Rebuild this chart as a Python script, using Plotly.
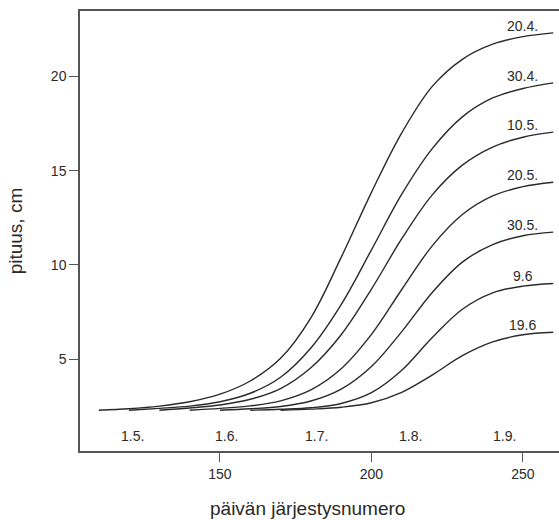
import plotly.graph_objects as go

# Sowing dates (day of year) and the curve labels
sow_labels = ["20.4.", "30.4.", "10.5.", "20.5.", "30.5.", "9.6", "19.6"]

# Common day grid; each series starts at its own sowing day
days = [110, 120, 130, 140, 150, 160, 170, 180, 190, 200, 210, 220, 230, 240, 250, 260]

# Plant height (cm) by day, one list per sowing date (None before sowing)
h_2004 = [2.3, 2.38, 2.52, 2.75, 3.15, 3.85, 5.05, 7.2, 10.4, 13.85, 17.0, 19.45, 20.9, 21.7, 22.1, 22.3]
h_3004 = [None, 2.3, 2.4, 2.52, 2.75, 3.2, 4.05, 5.6, 7.9, 10.8, 13.75, 16.15, 17.85, 18.85, 19.35, 19.65]
h_1005 = [None, None, 2.3, 2.42, 2.58, 2.88, 3.45, 4.55, 6.3, 8.72, 11.39, 13.7, 15.29, 16.25, 16.77, 17.04]
h_2005 = [None, None, None, 2.3, 2.4, 2.53, 2.8, 3.38, 4.5, 6.32, 8.7, 11.0, 12.67, 13.66, 14.15, 14.38]
h_3005 = [None, None, None, None, 2.3, 2.38, 2.5, 2.79, 3.42, 4.62, 6.47, 8.53, 10.15, 11.08, 11.55, 11.74]
h_0906 = [None, None, None, None, None, 2.3, 2.35, 2.43, 2.66, 3.23, 4.42, 6.14, 7.65, 8.52, 8.88, 9.02]
h_1906 = [None, None, None, None, None, None, 2.3, 2.36, 2.46, 2.7, 3.25, 4.16, 5.19, 5.92, 6.3, 6.43]

series = [h_2004, h_3004, h_1005, h_2005, h_3005, h_0906, h_1906]

# Month markers along the bottom of the plot
month_days = [121, 152, 182, 213, 244]
month_text = ["1.5.", "1.6.", "1.7.", "1.8.", "1.9."]
month_y = 0.95

label_day = 250

FONT = "Liberation Sans, Arial, Helvetica, sans-serif"
INK = "#2a2a2a"

fig = go.Figure()

for name, vals in zip(sow_labels, series):
    xs = [d for d, v in zip(days, vals) if v is not None]
    ys = [v for v in vals if v is not None]
    fig.add_trace(go.Scatter(
        x=xs, y=ys, mode="lines", name=name,
        line=dict(color=INK, width=1.4, shape="spline", smoothing=1.0),
        showlegend=False, hoverinfo="skip",
    ))
    fig.add_annotation(
        x=label_day, y=ys[-1], text=name, showarrow=False,
        xanchor="center", yanchor="bottom", yshift=-3,
        font=dict(family=FONT, size=14, color=INK),
    )

for d, t in zip(month_days, month_text):
    fig.add_annotation(
        x=d, y=month_y, text=t, showarrow=False,
        xanchor="center", yanchor="middle",
        font=dict(family=FONT, size=14, color=INK),
    )

# Axis titles
fig.add_annotation(
    text="päivän järjestysnumero", xref="paper", yref="paper",
    x=0.475, y=-0.13, xanchor="center", yanchor="middle", showarrow=False,
    font=dict(family=FONT, size=19, color=INK),
)
fig.add_annotation(
    text="pituus, cm", xref="paper", yref="paper",
    x=-0.135, y=0.5, xanchor="center", yanchor="middle", showarrow=False,
    textangle=-90,
    font=dict(family=FONT, size=19, color=INK),
)

fig.update_layout(
    width=559, height=520,
    margin=dict(l=80, r=0, t=11, b=69),
    paper_bgcolor="white", plot_bgcolor="white",
    font=dict(family=FONT, size=14, color=INK),
)
fig.update_xaxes(
    range=[103.8, 261.9], tickvals=[150, 200, 250],
    showgrid=False, zeroline=False,
    showline=True, linecolor="#555555", linewidth=1.5, mirror=True,
    ticks="outside", ticklen=9, tickwidth=1.2, tickcolor="#555555",
    tickfont=dict(family=FONT, size=14, color=INK),
)
fig.update_yaxes(
    range=[0.14, 23.46], tickvals=[5, 10, 15, 20],
    showgrid=False, zeroline=False,
    showline=True, linecolor="#555555", linewidth=1.5, mirror=False,
    ticks="outside", ticklen=9, tickwidth=1.2, tickcolor="#555555",
    tickfont=dict(family=FONT, size=14, color=INK),
)

fig.write_html("out.html")
